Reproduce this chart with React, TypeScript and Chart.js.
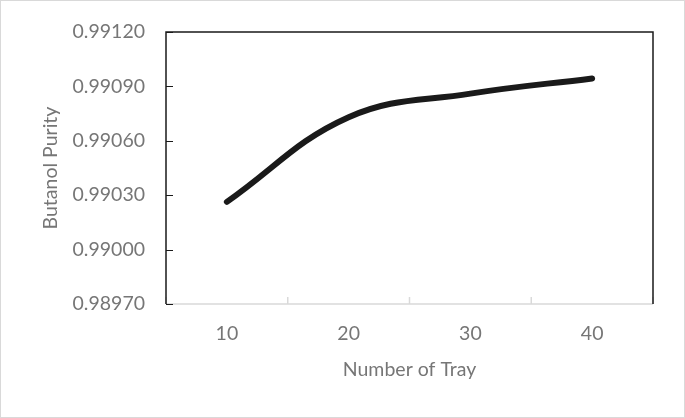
import React, { useEffect, useRef } from "react";
import { Chart, registerables } from "chart.js";

Chart.register(...registerables);

const categories = ["10", "20", "30", "40"];
const purity = [0.990263, 0.99073, 0.99086, 0.990944];
const yTicks = [0.9897, 0.99, 0.9903, 0.9906, 0.9909, 0.9912];

const FONT = "Lato, 'Open Sans', sans-serif";
const TEXT = "#767676";

const framePlugin = {
  id: "frame",
  beforeDraw(chart: any) {
    const { ctx, width, height } = chart;
    ctx.save();
    ctx.fillStyle = "#ffffff";
    ctx.fillRect(0, 0, width, height);
    ctx.strokeStyle = "#d9d9d9";
    ctx.lineWidth = 1;
    ctx.strokeRect(0.5, 0.5, width - 1, height - 1);
    ctx.restore();
  },
  afterDatasetsDraw(chart: any) {
    const { ctx, chartArea } = chart;
    const { left, right, top, bottom } = chartArea;
    const xs = chart.scales.x;
    const ys = chart.scales.y;
    ctx.save();
    ctx.strokeStyle = "#d9d9d9";
    ctx.lineWidth = 1.5;
    ctx.beginPath();
    ctx.moveTo(left, bottom);
    ctx.lineTo(right, bottom);
    ctx.stroke();
    const n = categories.length;
    const step = xs.getPixelForValue(1) - xs.getPixelForValue(0);
    for (let i = 0; i <= n; i++) {
      const x =
        i < n ? xs.getPixelForValue(i) - step / 2 : xs.getPixelForValue(n - 1) + step / 2;
      ctx.beginPath();
      ctx.moveTo(x, bottom);
      ctx.lineTo(x, bottom - 7);
      ctx.stroke();
    }
    ctx.strokeStyle = "#1a1a1a";
    ctx.lineWidth = 1.5;
    ctx.beginPath();
    ctx.moveTo(left, bottom);
    ctx.lineTo(left, top);
    ctx.lineTo(right, top);
    ctx.lineTo(right, bottom);
    ctx.stroke();
    ctx.lineWidth = 1;
    for (const v of yTicks) {
      const y = Math.round(ys.getPixelForValue(v)) + 0.5;
      ctx.beginPath();
      ctx.moveTo(left, y);
      ctx.lineTo(left + 7, y);
      ctx.stroke();
    }
    ctx.restore();
  },
};

export default function App() {
  const ref = useRef<HTMLCanvasElement | null>(null);
  useEffect(() => {
    if (!ref.current) return;
    const chart = new Chart(ref.current, {
      type: "line",
      data: {
        labels: categories,
        datasets: [
          {
            data: purity,
            borderColor: "#1a1a1a",
            borderWidth: 6,
            borderCapStyle: "round",
            borderJoinStyle: "round",
            tension: 0.4,
            pointRadius: 0,
            fill: false,
          },
        ],
      },
      options: {
        animation: false,
        responsive: false,
        maintainAspectRatio: false,
        layout: { padding: { top: 32, right: 32, left: 0, bottom: 0 } },
        plugins: { legend: { display: false }, tooltip: { enabled: false } },
        scales: {
          x: {
            type: "category",
            offset: true,
            grid: { display: false, offset: true },
            border: { display: false },
            afterFit: (s: any) => {
              s.height = 114;
            },
            ticks: {
              color: TEXT,
              font: { family: FONT, size: 19.5 },
              padding: 10,
              maxRotation: 0,
            },
            title: {
              display: true,
              text: "Number of Tray",
              color: TEXT,
              font: { family: FONT, size: 19.5 },
              padding: { top: 0, bottom: 37 },
            },
          },
          y: {
            min: 0.9897,
            max: 0.9912,
            afterBuildTicks: (s: any) => {
              s.ticks = yTicks.map((v) => ({ value: v }));
            },
            afterFit: (s: any) => {
              s.width = 166;
            },
            grid: { display: false },
            border: { display: false },
            ticks: {
              color: TEXT,
              font: { family: FONT, size: 19.5 },
              padding: 13,
              callback: (v: any) => Number(v).toFixed(5),
            },
            title: {
              display: true,
              text: "Butanol Purity",
              color: TEXT,
              font: { family: FONT, size: 19.5 },
              padding: { top: 39, bottom: 0 },
            },
          },
        },
      },
      plugins: [framePlugin],
    } as any);
    return () => chart.destroy();
  }, []);
  return (
    <div style={{ position: "fixed", left: 0, top: 0, width: 685, height: 418 }}>
      <canvas ref={ref} width={685} height={418} style={{ display: "block" }} />
    </div>
  );
}
